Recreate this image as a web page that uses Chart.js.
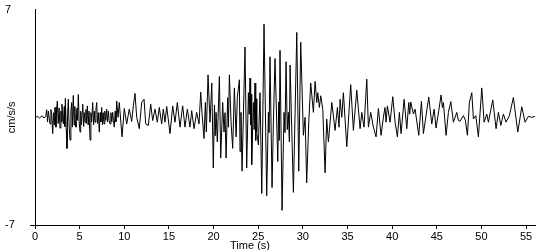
<!DOCTYPE html>
<html>
<head>
<meta charset="utf-8">
<script src="https://cdn.jsdelivr.net/npm/chart.js@4.4.1/dist/chart.umd.min.js"></script>
<style>
  html, body { margin: 0; padding: 0; background: #fff; }
  #wrap { width: 550px; height: 250px; }
</style>
</head>
<body>
<div id="wrap"><canvas id="myChart" width="550" height="250"></canvas></div>
<script>
// time (s) of each turning point of the trace
var times = [
  0, 0.3, 0.5, 0.8, 1.0, 1.2,
  1.31, 1.4, 1.5, 1.6, 1.68, 1.78, 1.87, 1.98, 2.08, 2.16, 2.24, 2.35, 2.42, 2.5,
  2.6, 2.7, 2.8, 2.9, 2.96, 3.02, 3.1, 3.17, 3.28, 3.34, 3.4, 3.5, 3.58, 3.66, 3.73,
  3.82, 3.92, 4.02, 4.11, 4.18, 4.29, 4.38, 4.46, 4.52, 4.59, 4.7, 4.78, 4.85, 4.95,
  5.04, 5.12, 5.2, 5.28, 5.34, 5.45, 5.52, 5.6, 5.7, 5.78, 5.86, 5.96, 6.05, 6.16,
  6.26, 6.34, 6.46, 6.56, 6.64, 6.72, 6.82, 6.91, 7.0, 7.1, 7.2, 7.3, 7.38, 7.47,
  7.56, 7.64, 7.73, 7.82, 7.92, 8.03, 8.12, 8.22, 8.3, 8.4, 8.5, 8.6, 8.7, 8.78, 8.88,
  8.98, 9.06, 9.15,
  9.3, 9.44, 9.75, 10.0, 10.27, 10.56, 10.83,
  11.01, 11.2, 11.39, 11.68, 11.95, 12.21, 12.4, 12.69, 12.96, 13.18, 13.44, 13.7,
  13.92, 14.19, 14.37, 14.56, 14.75, 15.12, 15.42, 15.68, 15.94, 16.24, 16.54, 16.8,
  17.06, 17.36, 17.55, 17.81, 18.11, 18.37,
  18.56, 18.7, 18.93, 19.08, 19.19, 19.38, 19.6, 19.8, 19.97, 20.1, 20.18, 20.28, 20.42,
  20.65, 20.8, 21.02, 21.17, 21.28, 21.4, 21.58, 21.66, 21.77, 21.96, 22.14, 22.33,
  22.52, 22.66, 22.89, 22.96, 23.07, 23.19, 23.52, 23.71, 23.9, 23.99, 24.08, 24.15,
  24.2, 24.27, 24.46, 24.55, 24.64, 24.72, 24.78, 24.84, 25.02, 25.2, 25.4, 25.65,
  25.95, 26.14, 26.22, 26.32, 26.55, 26.7, 26.88, 27.19, 27.3, 27.36, 27.44, 27.67,
  27.89, 28.0, 28.12, 28.25, 28.37, 28.49, 28.57, 28.94, 29.32, 29.54, 29.76,
  30.06, 30.25, 30.43, 30.66, 30.88, 31.18, 31.37, 31.56, 31.67, 31.85, 32.0, 32.23,
  32.49, 32.67, 32.86, 33.24, 33.61, 33.87, 34.05, 34.17, 34.36, 34.54, 34.92, 35.36,
  35.66, 36.04, 36.41,
  36.6, 36.85, 37.16, 37.34, 37.6, 37.9, 38.2, 38.46, 38.76, 39.02, 39.2, 39.32, 39.47,
  39.77, 40.07, 40.33, 40.59, 40.81, 41.0, 41.34, 41.64, 41.86, 41.97, 42.08, 42.38,
  42.57, 42.98, 43.28, 43.5, 43.8, 44.1, 44.44, 44.7, 44.92, 45.22, 45.48, 45.63, 45.74,
  46.04, 46.3, 46.57, 46.86, 47.24, 47.42, 47.61, 47.8, 47.98, 48.2, 48.43, 48.65,
  48.92, 49.1, 49.37, 49.66, 50.04, 50.3, 50.6, 50.78, 51.27, 51.64, 51.9, 52.17,
  52.46, 52.76, 53.13, 53.58, 54.07, 54.52, 54.89, 55.26, 55.64, 56.0
];

// acceleration (cm/s/s)
var accel = [
  0, 0.06, -0.05, 0.1, -0.05, 0.06,
  0.49, -0.3, 0.4, -0.1, -0.43, 0.5, 0.2, -1.06, 0.3, -0.5, 0.64, -0.64, 0.5, 1.06,
  -0.4, 0.6, -0.7, 0.4, -0.3, 0.85, 0.1, -0.43, 0.7, -0.6, 1.23, -0.8, -2.02, 0.3, 1.17,
  -0.5, -1.48, 0.4, 0.96, -0.64, 1.42, -0.5, 0.7, -0.3, -0.64, 0.6, -0.2, 1.48, -0.3,
  -0.96, 0.4, -0.5, 0.3, 0.85, -0.6, 0.3, -0.32, 0.5, -0.4, 0.74, -0.5, 0.4, -1.48,
  0.3, -0.3, 0.96, -0.5, 0.4, -0.32, 0.5, 0.96, -0.4, 0.3, -0.96, 0.3, -0.3, 0.64,
  -0.5, 0.3, -0.43, 0.4, -0.2, 0.53, -0.3, 0.4, -0.2, -0.43, 0.3, -0.3, 0.32, -0.2, -0.64,
  0.4, -0.3, 1.06,
  0, 0.96, -1.27, 0.57, -0.43, 0.53, -0.27,
  0.74, 1.55, 0, -0.74, 0.96, 1.17, -0.43, -0.53, 0.85, -0.21, 0.53, -0.32,
  0.64, -0.43, 0.53, -0.32, 0.7, -1.06, 0.74, -0.32, 0.96, -0.64, 0.74, -0.64,
  0.53, -0.64, 0.43, -0.74, 0.32, -0.43,
  1.64, 0.32, -1.38, 0.96, -0.96, 2.76, -0.32, 2.23, -3.29, 0.8, -1.2, 0.32, -1.6,
  2.65, -2.65, 0.96, -0.96, 0.3, -2.65, 1.27, -0.64, 2.76, -0.32, -2.02, 1.91,
  -1.27, 1.27, 2.44, -2.23, 0.32, -3.5, 4.57, -3.29, 1.6, 0.2, 2.55, -0.5,
  1.5, -3.08, 0.96, -0.8, 2.23, -1.5, 1.2, -0.96, -1.8, 1.6, -4.95, 6.05,
  -5.1, 0.32, -1.0, 3.93, -4.57, -0.32, 3.82, -2.87, 1.0, -1.5, 4.35, -6.05,
  0.32, -1.0, 3.61, -0.8, 0.32, -1.6, 3.4, -4.88, 5.52, -3.5, 4.88,
  -1.17, 0, -4.25, -0.32, 2.23, 0.32, 2.33, 0.96, 1.6, 0.64, 1.4, 0.53,
  -3.61, -0.11, -1.6, 0.96, -0.85, 0.64, -0.64, 1.17, 0, 1.6, -1.91, 2.12,
  -0.85, 1.76, -0.74,
  0.32, -0.64, 2.48, -0.64, 0.32, -0.64, -1.27, 0.57, -1.17, 0, 0.64, -0.32, 0.74,
  -0.32, 1.34, -0.32, -1.27, 0.32, -1.06, 1.17, -0.74, 0.96, 0.2, 1.0, 0.21,
  0.53, -1.17, 1.04, -1.06, 0.11, 1.32, -0.43, 0.53, -0.7, 0.43, 1.45, 0.64, 0.96,
  -1.17, 0.32, 1.02, -0.32, 0.32, -0.2, -0.25, -0.05, 0.11, -0.2, -1.17, 0.96,
  1.6, -0.11, 0.11, -1.27, 1.91, -0.32, 0.21, -0.32, 1.13, -0.74, 0.32, -0.53,
  0.21, -0.32, 0.11, 1.29, -0.96, 0.68, -0.32, 0.06, 0, 0.06
];

var xTicks = [0, 5, 10, 15, 20, 25, 30, 35, 40, 45, 50, 55];
var yTicks = [-7, 7];

var points = times.map(function (t, i) { return { x: t, y: accel[i] }; });

// x axis title sits left of centre in the original, so it is drawn here
var xTitle = {
    id: 'xTitle',
    afterDraw: function (chart) {
        var c = chart.ctx;
        c.save();
        c.fillStyle = '#000';
        c.font = '11px "Liberation Sans", Arial, sans-serif';
        c.textAlign = 'center';
        c.textBaseline = 'top';
        c.fillText('Time (s)', 250, 240);
        c.restore();
    }
};

var ctx = document.getElementById('myChart').getContext('2d');

var myChart = new Chart(ctx, {
    type: 'line',
    data: {
        datasets: [{
            data: points,
            borderColor: '#000',
            borderWidth: 1,
            pointRadius: 0,
            tension: 0,
            fill: false
        }]
    },
    options: {
        responsive: false,
        animation: false,
        events: [],
        layout: { padding: { top: 5, right: 15, left: 5, bottom: 0 } },
        plugins: { legend: { display: false }, tooltip: { enabled: false } },
        scales: {
            x: {
                type: 'linear',
                min: 0,
                max: 56,
                afterBuildTicks: function (s) { s.ticks = xTicks.map(function (v) { return { value: v }; }); },
                afterFit: function (s) { s.height = 25; },
                border: { color: '#000', width: 1 },
                grid: { drawOnChartArea: false, color: '#000', tickLength: 4 },
                ticks: {
                    color: '#000',
                    padding: 1,
                    maxRotation: 0,
                    font: { family: '"Liberation Sans", Arial, sans-serif', size: 11 }
                }
            },
            y: {
                min: -7,
                max: 7,
                afterBuildTicks: function (s) { s.ticks = yTicks.map(function (v) { return { value: v }; }); },
                afterFit: function (s) { s.width = 30; },
                border: { color: '#000', width: 1 },
                grid: {
                    drawOnChartArea: false,
                    tickLength: 5,
                    color: function (c) { return c.tick && c.tick.value === -7 ? '#000' : 'rgba(0,0,0,0)'; }
                },
                ticks: {
                    color: '#000',
                    crossAlign: 'far',
                    font: { family: '"Liberation Sans", Arial, sans-serif', size: 11 }
                },
                title: {
                    display: true,
                    text: 'cm/s/s',
                    color: '#000',
                    padding: 0,
                    font: { family: '"Liberation Sans", Arial, sans-serif', size: 11 }
                }
            }
        }
    },
    plugins: [xTitle]
});
</script>
</body>
</html>
